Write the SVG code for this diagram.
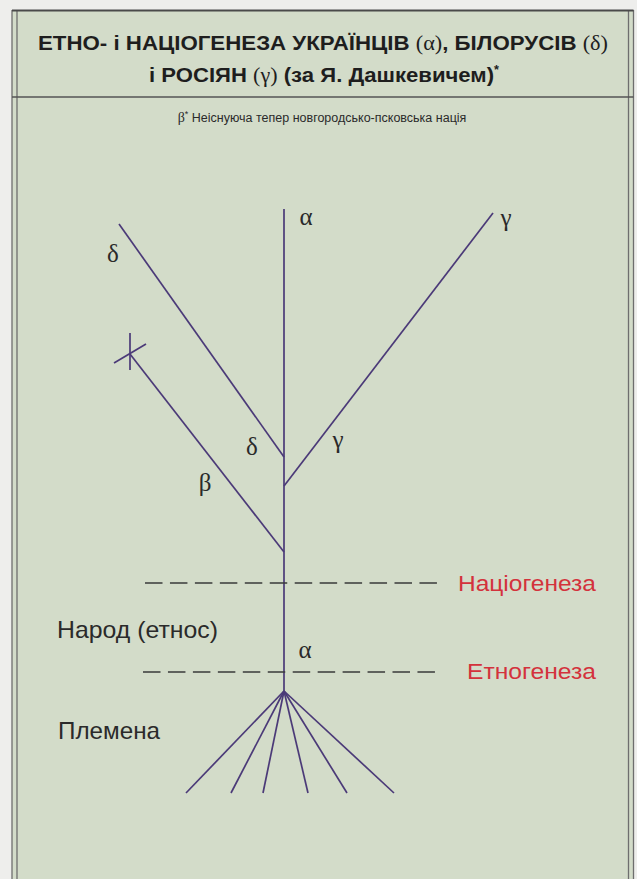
<svg xmlns="http://www.w3.org/2000/svg" width="637" height="879" viewBox="0 0 637 879">
  <style>
    .frame { fill: none; stroke: #6e6e6e; stroke-width: 1.3; }
    .sep { stroke: #555; stroke-width: 1.3; }
    .title { font-family: "Liberation Sans", Arial, sans-serif; font-weight: bold; font-size: 21px; fill: #1e1e1e; }
    .gk { font-family: "Liberation Serif", "Times New Roman", serif; font-weight: normal; }
    .sub { font-family: "Liberation Sans", Arial, sans-serif; font-size: 12.5px; fill: #2a2a2a; }
    .branch { stroke: #4b3a78; stroke-width: 1.7; fill: none; stroke-linecap: butt; }
    .dash { stroke: #3a3a3a; stroke-width: 1.6; stroke-dasharray: 17.5 7.45; fill: none; }
    .greek { font-family: "Liberation Serif", "Times New Roman", serif; font-size: 25px; fill: #2a2a2a; text-anchor: middle; }
    .lbl { font-family: "Liberation Sans", Arial, sans-serif; font-size: 24px; fill: #2a2a2a; }
    .red { font-family: "Liberation Sans", Arial, sans-serif; font-size: 22.5px; fill: #d3323c; }
  </style>

  <rect x="0" y="0" width="637" height="879" fill="#eeeeec"/>
  <rect x="12" y="10" width="621.5" height="875" fill="#d3dcc9"/>

  <g id="frame">
    <line class="frame" x1="12" y1="10" x2="12" y2="879"/>
    <line class="frame" x1="17" y1="10" x2="17" y2="879"/>
    <line class="frame" x1="628.5" y1="10" x2="628.5" y2="879"/>
    <line class="frame" x1="633.5" y1="10" x2="633.5" y2="879"/>
    <line x1="12" y1="10.5" x2="633.5" y2="10.5" stroke="#4a4a4a" stroke-width="2"/>
    <line class="sep" x1="12" y1="97" x2="633.5" y2="97"/>
  </g>

  <g id="title">
    <text class="title" x="323" y="50" text-anchor="middle" textLength="570" lengthAdjust="spacingAndGlyphs">ЕТНО- і НАЦІОГЕНЕЗА  УКРАЇНЦІВ <tspan class="gk">(α)</tspan>, БІЛОРУСІВ <tspan class="gk">(δ)</tspan></text>
    <text class="title" x="324" y="82" text-anchor="middle" textLength="350" lengthAdjust="spacingAndGlyphs">і РОСІЯН <tspan class="gk">(γ)</tspan> (за Я. Дашкевичем)<tspan font-size="12" dy="-8">*</tspan></text>
  </g>

  <g id="note">
    <text class="sub" x="322" y="122" text-anchor="middle"><tspan class="gk" font-size="14">β</tspan><tspan font-size="9" dy="-5">*</tspan><tspan dy="5"> Неіснуюча тепер новгородсько-псковська нація</tspan></text>
  </g>

  <g id="connectors">
    <line class="branch" x1="284" y1="209" x2="284" y2="691"/>
    <line class="branch" x1="119" y1="224" x2="284" y2="457"/>
    <line class="branch" x1="284" y1="486" x2="493" y2="213"/>
    <line class="branch" x1="130" y1="354" x2="284" y2="552"/>
    <line class="branch" x1="130" y1="333" x2="130" y2="370"/>
    <line class="branch" x1="114" y1="363" x2="146" y2="344"/>
    <line class="branch" x1="284" y1="691" x2="186" y2="793"/>
    <line class="branch" x1="284" y1="691" x2="231" y2="793"/>
    <line class="branch" x1="284" y1="691" x2="263" y2="793"/>
    <line class="branch" x1="284" y1="691" x2="308" y2="793"/>
    <line class="branch" x1="284" y1="691" x2="347" y2="793"/>
    <line class="branch" x1="284" y1="691" x2="394" y2="793"/>
    <line class="dash" x1="145" y1="583" x2="437" y2="583"/>
    <line class="dash" x1="143" y1="672" x2="437" y2="672"/>
  </g>

  <g id="alpha-top"><text class="greek" x="306" y="225">α</text></g>
  <g id="delta-top"><text class="greek" x="113" y="262">δ</text></g>
  <g id="gamma-top"><text class="greek" x="506" y="226">γ</text></g>
  <g id="delta-low"><text class="greek" x="252" y="455">δ</text></g>
  <g id="gamma-low"><text class="greek" x="338" y="448">γ</text></g>
  <g id="beta"><text class="greek" x="205" y="491">β</text></g>
  <g id="alpha-low"><text class="greek" x="305" y="658">α</text></g>

  <g id="natsiogeneza"><text class="red" x="458" y="591" textLength="138" lengthAdjust="spacingAndGlyphs">Націогенеза</text></g>
  <g id="etnogeneza"><text class="red" x="467" y="679" textLength="129" lengthAdjust="spacingAndGlyphs">Етногенеза</text></g>
  <g id="narod"><text class="lbl" x="57" y="638" textLength="161" lengthAdjust="spacingAndGlyphs">Народ (етнос)</text></g>
  <g id="plemena"><text class="lbl" x="58" y="739" textLength="102" lengthAdjust="spacingAndGlyphs">Племена</text></g>
</svg>
